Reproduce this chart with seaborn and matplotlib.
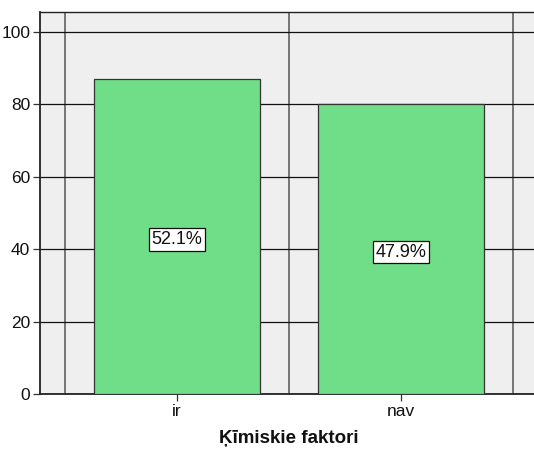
import matplotlib
matplotlib.use("Agg")
import matplotlib.pyplot as plt
import seaborn as sns
import pandas as pd

categories = ["ir", "nav"]
counts = [87, 80]
percent_labels = ["52.1%", "47.9%"]
y_ticks = [0, 20, 40, 60, 80, 100]
x_title = "Ķīmiskie faktori"

sns.set_style("white")
plt.rcParams["font.family"] = ["Liberation Sans", "DejaVu Sans"]

df = pd.DataFrame({"category": categories, "count": counts})

fig = plt.figure(figsize=(5.34, 4.5), dpi=100)
ax = fig.add_axes([0.0749, 0.1244, 0.9326, 0.849])
ax.set_facecolor("#EFEFEF")

sns.barplot(data=df, x="category", y="count", color="#70DD88", saturation=1,
            width=0.745, edgecolor="#333333", linewidth=0.9, ax=ax, zorder=3)

ax.set_xlim(-0.612, 1.612)
ax.set_ylim(0, 105.5)
ax.set_yticks(y_ticks)
ax.set_yticklabels([str(v) for v in y_ticks])

# horizontal reference lines at the y ticks
ax.grid(axis="y", which="major", color="#111111", linewidth=0.9, zorder=1)
ax.set_axisbelow(True)
# vertical separators between categories
ax.set_xticks([-0.5, 0.5, 1.5], minor=True)
ax.grid(axis="x", which="minor", color="#555555", linewidth=1.1, zorder=1)
ax.tick_params(axis="x", which="minor", length=0)

ax.tick_params(axis="both", which="major", direction="out", length=5, width=0.9,
               color="#333333", labelsize=12.5, labelcolor="#111111", pad=2,
               left=True, bottom=True)

for p, lab in zip(ax.patches, percent_labels):
    h = p.get_height()
    ax.text(p.get_x() + p.get_width() / 2, h * 0.49, lab, ha="center", va="center",
            fontsize=13, color="#111111", zorder=5,
            bbox=dict(boxstyle="square,pad=0.15", facecolor="white",
                      edgecolor="#111111", linewidth=0.9))

ax.set_xlabel(x_title, fontsize=13.5, fontweight="bold", labelpad=8, color="#111111")
ax.set_ylabel("")

for side in ["left", "top", "bottom"]:
    ax.spines[side].set_visible(True)
    ax.spines[side].set_color("#222222")
ax.spines["left"].set_linewidth(1.3)
ax.spines["top"].set_linewidth(1.0)
ax.spines["bottom"].set_linewidth(1.3)
ax.spines["right"].set_visible(False)

fig.savefig("out.png", dpi=100)
